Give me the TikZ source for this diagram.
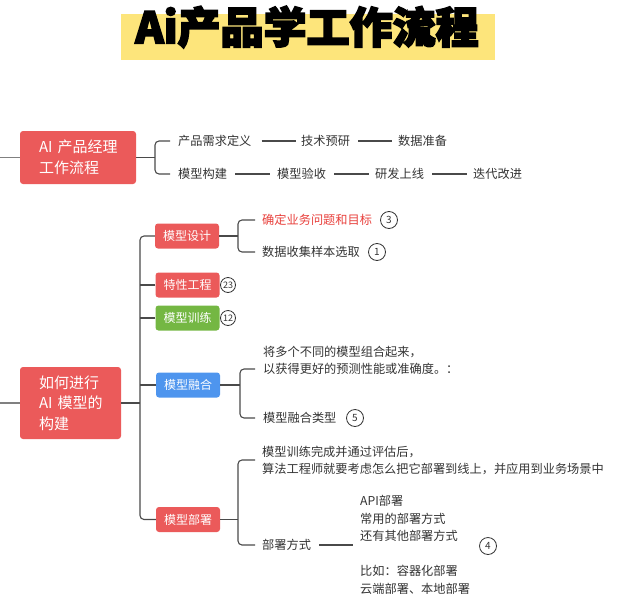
\documentclass[tikz,border=0pt]{standalone}
\usepackage{fontspec}
\setmainfont{Noto Sans CJK SC}
\newfontfamily\titlefont{Noto Sans CJK SC}[BoldFeatures={FakeBold=4}]
\definecolor{boxred}{HTML}{EB5A5A}
\definecolor{boxgreen}{HTML}{74B743}
\definecolor{boxblue}{HTML}{4E95EE}
\definecolor{bannery}{HTML}{FDE57B}
\definecolor{textc}{HTML}{333333}
\definecolor{redtext}{HTML}{E8403C}
\definecolor{linec}{HTML}{4A4A4A}
\begin{document}
\begin{tikzpicture}[x=1pt,y=-1pt,
  mainbox/.style={fill=boxred, text=white, rounded corners=3pt, font=\fontsize{15}{20.5}\selectfont, align=left, inner ysep=0pt},
  smallbox/.style={rounded corners=3pt, text=white, font=\fontsize{12}{14}\selectfont, minimum width=64pt, minimum height=25pt, inner sep=0pt},
  num/.style={circle, draw=textc, line width=0.8pt, minimum size=17pt, inner sep=0pt, text=textc, font=\fontsize{10}{10}\selectfont},
  numsmall/.style={num, minimum size=15pt, font=\fontsize{9}{9}\selectfont},
  txt/.style={anchor=west, inner sep=0pt, text=textc, font=\fontsize{12.2}{17}\selectfont, align=left},
  link/.style={draw=linec, line width=1.1pt},
  stub/.style={draw=linec!70, line width=1.1pt},
  trunk/.style={draw=linec, line width=1.4pt}
]
\useasboundingbox (0,0) rectangle (620,605);

% title
\node[fill=bannery, minimum width=374pt, minimum height=46pt, inner sep=0pt] (banner) at (308,37) {};
\node[inner sep=0pt, text=black, font=\titlefont\bfseries\fontsize{43}{43}\selectfont] (title) at (307,27) {Ai产品学工作流程};

% part 1
\node[mainbox, text width=84pt, inner xsep=16pt, minimum height=53pt] (m1) at (78,157.5) {\hspace*{3pt}AI~产品经理\\\hspace*{3pt}工作流程};
\coordinate (s1) at (0,157.5);
\coordinate (j1) at (155,157.5);
\draw[stub] (s1) -- (m1.west);
\draw[link] (m1.east) -- (j1);

\node[txt] (a1) at (178,141) {产品需求定义};
\node[txt] (a2) at (301,141) {技术预研};
\node[txt] (a3) at (398,141) {数据准备};
\node[txt] (r1) at (178,174) {模型构建};
\node[txt] (r2) at (277,174) {模型验收};
\node[txt] (r3) at (375,174) {研发上线};
\node[txt] (r4) at (473,174) {迭代改进};

\draw[link, rounded corners=4pt] ([xshift=-8pt]a1.west) -| (j1) |- ([xshift=-8pt]r1.west);
\draw[link, shorten <=10pt, shorten >=5pt] (a1.east) -- (a2.west);
\draw[link, shorten <=8pt, shorten >=6pt] (a2.east) -- (a3.west);
\draw[link, shorten <=8pt, shorten >=7pt] (r1.east) -- (r2.west);
\draw[link, shorten <=8pt, shorten >=6pt] (r2.east) -- (r3.west);
\draw[link, shorten <=8pt, shorten >=6pt] (r3.east) -- (r4.west);

% part 2
\node[mainbox, text width=69pt, inner xsep=16pt, minimum height=72pt] (m2) at (70.5,403) {\hspace*{3pt}如何进行\\\hspace*{3pt}AI~模型的\\\hspace*{3pt}构建};
\coordinate (s2) at (0,403);
\coordinate (j2) at (140,403);
\draw[stub] (s2) -- (m2.west);
\draw[trunk] (m2.east) -- (j2);

\node[smallbox, fill=boxred] (b1) at (187,236) {模型设计};
\node[smallbox, fill=boxred] (b2) at (187.5,285) {特性工程};
\node[smallbox, fill=boxgreen] (b3) at (187.5,318) {模型训练};
\node[smallbox, fill=boxblue] (b4) at (188,385) {模型融合};
\node[smallbox, fill=boxred] (b5) at (188,519.5) {模型部署};

\draw[link, rounded corners=4pt] (b1.west) -| (j2) |- (b5.west);
\draw[link] (b2.west) -- (b2.west -| j2);
\draw[link] (b3.west) -- (b3.west -| j2);
\draw[link] (b4.west) -- (b4.west -| j2);

\node[numsmall] (n23) at (228,285) {23};
\node[numsmall] (n12) at (228,318) {12};

% model design branch
\coordinate (k1) at (238,236);
\draw[link] (b1.east) -- (k1);
\node[txt, text=redtext] (c1) at (262,220) {确定业务问题和目标};
\node[txt] (c2) at (262,252) {数据收集样本选取};
\draw[link, rounded corners=4pt] ([xshift=-7pt]c1.west) -| (k1) |- ([xshift=-7pt]c2.west);
\node[num] (n3) at (389,220) {3};
\node[num] (n1) at (377,252) {1};

% model fusion branch
\coordinate (k4) at (240,385);
\draw[link] (b4.east) -- (k4);
\node[txt] (d1) at (263,360.5) {将多个不同的模型组合起来，\\以获得更好的预测性能或准确度。：};
\node[txt] (d2) at (263,418) {模型融合类型};
\draw[link, rounded corners=4pt] ([xshift=-8pt,yshift=-8.5pt]d1.west) -| (k4) |- ([xshift=-8pt]d2.west);
\node[num] (n5) at (355,418) {5};

% deployment branch
\coordinate (k5) at (238,519.5);
\draw[link] (b5.east) -- (k5);
\node[txt] (e1) at (262,460) {模型训练完成并通过评估后，\\算法工程师就要考虑怎么把它部署到线上，并应用到业务场景中};
\node[txt] (e2) at (262,545) {部署方式};
\draw[link, rounded corners=4pt] ([xshift=-7pt]e1.west) -| (k5) |- ([xshift=-7pt]e2.west);
\node[txt, font=\fontsize{12.2}{17.5}\selectfont] (f1) at (360,545) {API部署\\常用的部署方式\\还有其他部署方式\\[17.5pt]比如：容器化部署\\云端部署、本地部署};
\draw[link, shorten <=8pt, shorten >=7pt] (e2.east) -- (f1.west);
\node[num] (n4) at (488,546) {4};
\end{tikzpicture}
\end{document}
